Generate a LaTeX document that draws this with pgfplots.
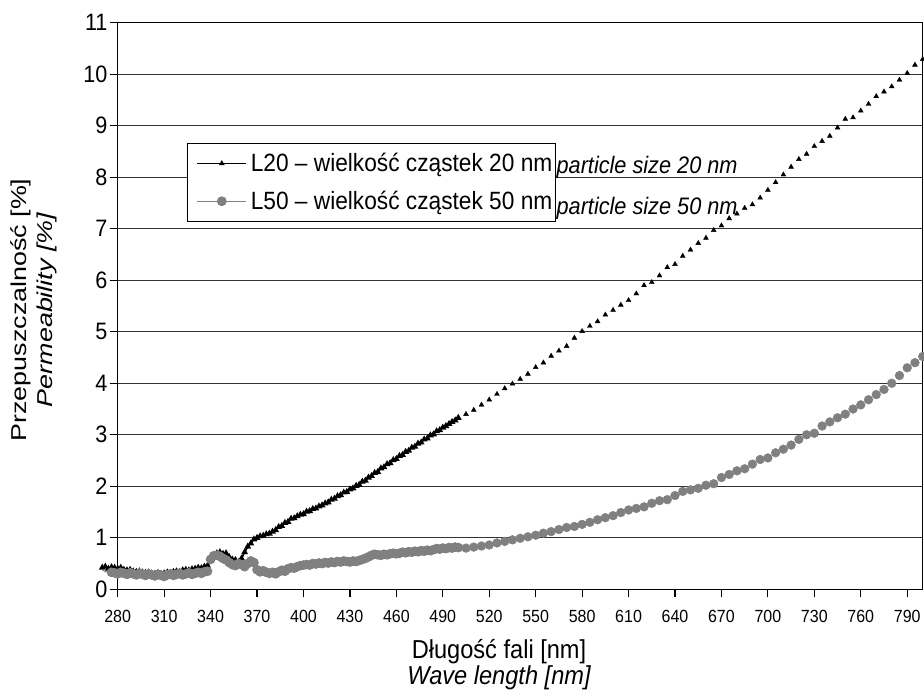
\documentclass[border=0pt]{standalone}
\usepackage{fontspec}
\setmainfont{Liberation Sans}
\usepackage{graphicx}
\usepackage{pgfplots}
\pgfplotsset{compat=1.18}
\newcommand\sx[1]{\scalebox{1}[1.1]{#1}}
\newcommand\sy[1]{\scalebox{1.25}[1]{#1}}
\definecolor{gr}{RGB}{128,128,128}
\begin{document}
\begin{tikzpicture}
\useasboundingbox (-117.7pt,-101.7pt) rectangle (806.3pt,589.3pt);
\begin{axis}[
  at={(0pt,0pt)}, anchor=south west, scale only axis,
  width=805pt, height=566.6pt,
  xmin=280, xmax=800, ymin=0, ymax=11,
  clip=false,
  axis line style={line width=1.3pt},
  xtick={280,310,...,790},
  xticklabels={\sx{280},\sx{310},\sx{340},\sx{370},\sx{400},\sx{430},\sx{460},\sx{490},\sx{520},\sx{550},\sx{580},\sx{610},\sx{640},\sx{670},\sx{700},\sx{730},\sx{760},\sx{790}},
  ytick={0,1,...,11},
  yticklabels={\sx{0},\sx{1},\sx{2},\sx{3},\sx{4},\sx{5},\sx{6},\sx{7},\sx{8},\sx{9},\sx{10},\sx{11}},
  xtick pos=left, ytick pos=left,
  tick align=outside, major tick length=8pt,
  tick style={black, line width=1.2pt},
  ymajorgrids, grid style={black!80, line width=1.2pt},
  xticklabel style={font=\fontsize{16}{19}\selectfont, inner sep=0pt, yshift=-13pt},
  yticklabel style={font=\fontsize{21.6}{26}\selectfont, inner sep=0pt, xshift=-2pt},
  xlabel={\sx{Długość fali [nm]}\\\sx{\itshape Wave length [nm]}},
  xlabel style={at={(axis description cs:0.4737,0)}, anchor=north, inner sep=0pt, yshift=-50pt, align=center, font={\fontsize{23.6}{25.5}\selectfont\lineskiplimit=-1000pt}},
  ylabel={\sy{Przepuszczalność [\%]}\\\sy{\itshape Permeability [\%]}},
  ylabel style={at={(axis description cs:-0.1326,0.493)}, rotate=0, anchor=north, inner sep=0pt, align=center, font={\fontsize{21.5}{26}\selectfont\lineskiplimit=-1000pt}},
  legend style={at={(0.0861,0.7877)}, anchor=north west, draw=black, line width=0.9pt, fill=white,
    inner xsep=3pt, inner ysep=10pt, row sep=18pt,
    font=\fontsize{22.7}{27}\selectfont,
    nodes={inner sep=0pt},
    /tikz/every odd column/.append style={column sep=4pt}},
  legend cell align=left,
  legend image code/.code={\path (0pt,0pt); \draw[#1, line width=1pt, mark repeat=2, mark phase=2] plot coordinates {(6pt,0pt) (30.5pt,0pt) (55pt,0pt)};},
]
% L20 dense part
\addplot[black, line width=1.7pt, mark=triangle*, mark size=2.3pt, mark options={solid}] coordinates {
(270,0.42)(272,0.44)(274,0.40)(276,0.43)(278,0.42)(280,0.40)(282,0.42)(284,0.38)(286,0.37)(288,0.38)(290,0.35)(292,0.34)(294,0.35)(296,0.33)(298,0.32)(300,0.33)(302,0.31)(304,0.30)(306,0.32)(308,0.30)(310,0.31)(312,0.33)(314,0.32)(316,0.34)(318,0.35)(320,0.34)(322,0.37)(324,0.38)(326,0.37)(328,0.39)(330,0.40)(332,0.42)(334,0.41)(336,0.44)(338,0.46)(340,0.62)(342,0.66)(344,0.70)(346,0.72)(348,0.69)(350,0.70)(352,0.63)(354,0.58)(356,0.57)(358,0.53)(360,0.60)(362,0.72)(364,0.83)(366,0.89)(368,0.97)(370,1.00)(372,1.03)(374,1.04)(376,1.07)(378,1.08)(380,1.12)(382,1.15)(384,1.21)(386,1.23)(388,1.29)(390,1.31)(392,1.37)(394,1.38)(396,1.42)(398,1.45)(400,1.46)(402,1.51)(404,1.52)(406,1.56)(408,1.57)(410,1.61)(412,1.63)(414,1.67)(416,1.69)(418,1.74)(420,1.76)(422,1.81)(424,1.83)(426,1.88)(428,1.89)(430,1.94)(432,1.96)(434,2.01)(436,2.03)(438,2.09)(440,2.11)(442,2.17)(444,2.20)(446,2.26)(448,2.28)(450,2.35)(452,2.37)(454,2.43)(456,2.45)(458,2.51)(460,2.53)(462,2.59)(464,2.61)(466,2.67)(468,2.69)(470,2.75)(472,2.77)(474,2.83)(476,2.85)(478,2.91)(480,2.93)(482,2.99)(484,3.01)(486,3.07)(488,3.09)(490,3.14)(492,3.17)(494,3.21)(496,3.25)(498,3.28)(500,3.33)
};
\addlegendentry{\sx{L20 – wielkość cząstek 20 nm}}
% L20 sparse part
\addplot[black, only marks, mark=triangle*, mark size=2.8pt, forget plot] coordinates {
(505,3.40)(510,3.48)(515,3.58)(520,3.68)(525,3.79)(530,3.90)(535,3.99)(540,4.08)(545,4.18)(550,4.31)(555,4.40)(560,4.53)(565,4.63)(570,4.72)(575,4.88)(580,5.01)(585,5.11)(590,5.20)(595,5.33)(600,5.42)(605,5.52)(610,5.61)(615,5.74)(620,5.90)(625,5.96)(630,6.09)(635,6.25)(640,6.31)(645,6.47)(650,6.59)(655,6.72)(660,6.82)(665,6.97)(670,7.06)(675,7.20)(680,7.29)(685,7.40)(690,7.47)(695,7.60)(700,7.75)(705,7.90)(710,8.05)(715,8.20)(720,8.35)(725,8.45)(730,8.60)(735,8.70)(740,8.80)(745,8.96)(750,9.13)(755,9.16)(760,9.29)(765,9.42)(770,9.57)(775,9.66)(780,9.76)(785,9.89)(790,10.02)(795,10.18)(800,10.29)
};
% L50 lead-in line
\addplot[gr, line width=0.9pt, forget plot] coordinates {(270,0.38)(272,0.34)(274,0.37)(276,0.33)};
% L50 dense part
\addplot[gr, line width=0.9pt, mark=*, mark size=4.4pt, mark options={fill=gr, draw=gr}] coordinates {
(276,0.33)(278,0.32)(280,0.30)(282,0.33)(284,0.31)(286,0.29)(288,0.32)(290,0.30)(292,0.28)(294,0.31)(296,0.29)(298,0.27)(300,0.30)(302,0.28)(304,0.26)(306,0.29)(308,0.27)(310,0.25)(312,0.28)(314,0.30)(316,0.27)(318,0.29)(320,0.31)(322,0.28)(324,0.30)(326,0.32)(328,0.29)(330,0.31)(332,0.33)(334,0.31)(336,0.34)(338,0.35)(340,0.58)(342,0.65)(344,0.66)(346,0.64)(348,0.60)(350,0.57)(352,0.52)(354,0.48)(356,0.46)(358,0.50)(360,0.48)(362,0.44)(364,0.50)(366,0.55)(368,0.52)(370,0.38)(372,0.34)(374,0.36)(376,0.33)(378,0.31)(380,0.33)(382,0.30)(384,0.34)(386,0.37)(388,0.35)(390,0.40)(392,0.42)(394,0.41)(396,0.44)(398,0.46)(400,0.47)(402,0.48)(404,0.47)(406,0.50)(408,0.49)(410,0.51)(412,0.50)(414,0.52)(416,0.51)(418,0.53)(420,0.52)(422,0.54)(424,0.53)(426,0.55)(428,0.54)(430,0.53)(432,0.55)(434,0.54)(436,0.56)(438,0.58)(440,0.60)(442,0.63)(444,0.66)(446,0.68)(448,0.67)(450,0.66)(452,0.68)(454,0.67)(456,0.69)(458,0.70)(460,0.69)(462,0.70)(464,0.72)(466,0.71)(468,0.73)(470,0.72)(472,0.74)(474,0.73)(476,0.75)(478,0.74)(480,0.76)(482,0.75)(484,0.77)(486,0.79)(488,0.78)(490,0.80)(492,0.79)(494,0.81)(496,0.80)(498,0.82)(500,0.81)
};
\addlegendentry{\sx{L50 – wielkość cząstek 50 nm}}
% L50 sparse part
\addplot[gr, only marks, mark=*, mark size=4.4pt, mark options={fill=gr, draw=gr}, forget plot] coordinates {
(505,0.80)(510,0.82)(515,0.84)(520,0.86)(525,0.90)(530,0.93)(535,0.96)(540,0.99)(545,1.02)(550,1.05)(555,1.09)(560,1.12)(565,1.16)(570,1.20)(575,1.22)(580,1.26)(585,1.30)(590,1.35)(595,1.39)(600,1.43)(605,1.49)(610,1.54)(615,1.57)(620,1.60)(625,1.67)(630,1.72)(635,1.74)(640,1.82)(645,1.90)(650,1.93)(655,1.96)(660,2.02)(665,2.05)(670,2.17)(675,2.23)(680,2.30)(685,2.34)(690,2.43)(695,2.52)(700,2.55)(705,2.65)(710,2.72)(715,2.80)(720,2.91)(725,3.00)(730,3.03)(735,3.17)(740,3.25)(745,3.33)(750,3.40)(755,3.50)(760,3.58)(765,3.68)(770,3.78)(775,3.88)(780,4.00)(785,4.15)(790,4.30)(795,4.40)(800,4.52)
};
\node[anchor=base west, inner sep=0pt, font=\fontsize{21.7}{26}\selectfont] at (axis cs:563.4,8.08) {\sx{\itshape particle size 20 nm}};
\node[anchor=base west, inner sep=0pt, font=\fontsize{21.7}{26}\selectfont] at (axis cs:563.4,7.28) {\sx{\itshape particle size 50 nm}};
\end{axis}
\end{tikzpicture}
\end{document}
